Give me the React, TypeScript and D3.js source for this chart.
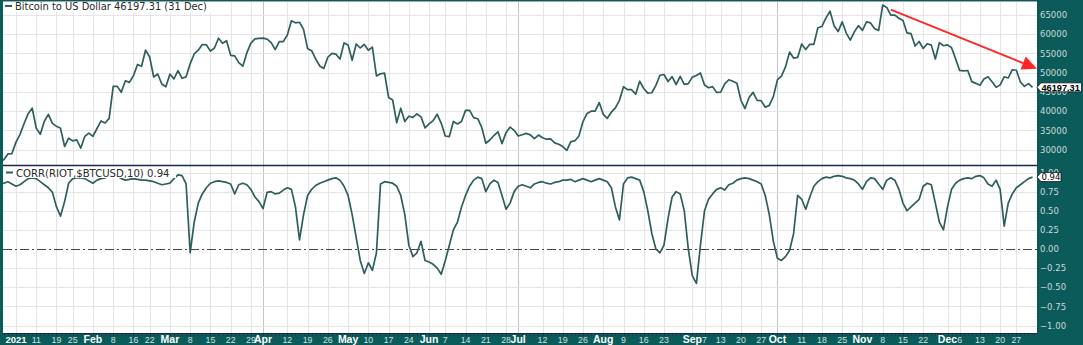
import React from "react";
import * as d3 from "d3";

// ---------- DATA ----------
const firstDay = "2020-12-28";
const lastDay = "2021-12-31";
const holidays = ["2021-01-01", "2021-01-18", "2021-02-15", "2021-04-02", "2021-05-31", "2021-07-05", "2021-09-06", "2021-11-25", "2021-12-24"];

// Bitcoin close on each trading day (Dec 28 2020 .. Dec 31 2021)
const btcClose = [
  // Dec 2020
  27000, 27400, 28900, 29000,
  // Jan
  31970, 33990, 36820, 39370, 40800, 35570, 34000, 37390, 39190, 36830, 36070, 35550, 30830, 32990, 32290, 32570, 30430, 33470, 34320,
  // Feb
  33470, 35510, 37470, 36930, 38140, 46480, 46450, 44920, 47910, 47500, 49200, 52150, 51680, 55890, 54090, 48890, 49680, 47070, 46340,
  // Mar
  49630, 48380, 50540, 48560, 48930, 52300, 54880, 55850, 57330, 57250, 55610, 56430, 58960, 57660, 58320, 54530, 54390, 52610, 51700, 55140, 57690, 58790, 58920,
  // Apr
  58990, 58730, 57840, 56000, 58090, 58090, 59790, 63500, 62970, 63110, 61250, 56250, 55720, 53560, 51760, 51090, 54020, 55030, 54820, 53560, 57750,
  // May
  57210, 53240, 57470, 56430, 57360, 55850, 56670, 49150, 49720, 49880, 43540, 42910, 37000, 40780, 37300, 38700, 38400, 39290, 38530, 35680,
  // Jun
  36690, 37570, 39190, 36850, 33560, 33420, 37350, 36700, 37330, 40220, 40220, 38350, 38050, 35790, 31680, 32510, 33680, 34660, 31590, 34430, 35870, 35040,
  // Jul
  33570, 33900, 34230, 33860, 32880, 33810, 33120, 32730, 32820, 31780, 31420, 30820, 29810, 32110, 32310, 33580, 37300, 39430, 40010, 40020, 42240,
  // Aug
  39200, 38150, 39750, 40870, 42820, 46370, 45600, 45590, 44430, 47790, 45900, 44700, 44800, 46720, 49340, 49550, 47710, 48990, 46940, 49060, 46980, 47170,
  // Sep
  48850, 49290, 49950, 46810, 46090, 46390, 44880, 44960, 47090, 48180, 47780, 47260, 42840, 40690, 43570, 44900, 42840, 42720, 41030, 41520, 43790,
  // Oct
  48120, 49110, 51510, 55360, 53810, 53970, 57470, 56040, 57400, 57370, 61670, 62030, 64260, 65990, 62210, 60690, 63230, 60310, 58470, 60620, 62230,
  // Nov
  61000, 63230, 62940, 61450, 61000, 67570, 66970, 64990, 64950, 64160, 63560, 60340, 60140, 56940, 58120, 56300, 57540, 57170, 53570, 57810, 57010,
  // Dec
  57230, 56510, 53600, 50590, 50500, 50580, 47680, 47240, 46740, 48380, 48940, 47670, 46200, 46850, 48940, 48630, 50780, 50640, 47590, 46440, 47180, 46197.31,
];

// CORR(RIOT,$BTCUSD,10) on each trading day
const corrValues = [
  0.85, 0.86, 0.88, 0.85, 0.82, 0.84, 0.88, 0.92, 0.93, 0.92,
  0.88, 0.84, 0.80, 0.74, 0.55, 0.43, 0.62, 0.86, 0.92, 0.93,
  0.93, 0.92, 0.89, 0.86, 0.90, 0.92, 0.93, 0.95, 0.96, 0.95,
  0.92, 0.90, 0.91, 0.92, 0.91, 0.90, 0.90, 0.89, 0.88, 0.86,
  0.84, 0.85, 0.86, 0.92, 0.97, 0.96, 0.85, -0.05, 0.35, 0.60,
  0.72, 0.80, 0.86, 0.88, 0.89, 0.88, 0.87, 0.85, 0.72, 0.84,
  0.86, 0.84, 0.78, 0.68, 0.62, 0.53, 0.74, 0.75, 0.72, 0.73,
  0.77, 0.80, 0.78, 0.55, 0.12, 0.45, 0.70, 0.78, 0.83, 0.86,
  0.88, 0.90, 0.92, 0.93, 0.90, 0.82, 0.70, 0.45, 0.15, -0.15,
  -0.32, -0.18, -0.28, -0.05, 0.85, 0.88, 0.87, 0.86, 0.82, 0.70,
  0.45, 0.05, -0.10, -0.05, 0.10, -0.15, -0.17, -0.20, -0.25, -0.33,
  -0.15, 0.05, 0.25, 0.35, 0.55, 0.70, 0.82, 0.90, 0.94, 0.92,
  0.75, 0.85, 0.90, 0.87, 0.70, 0.52, 0.60, 0.75, 0.82, 0.84,
  0.82, 0.80, 0.85, 0.87, 0.88, 0.86, 0.85, 0.87, 0.88, 0.90,
  0.90, 0.91, 0.88, 0.90, 0.92, 0.90, 0.88, 0.90, 0.92, 0.90,
  0.88, 0.80, 0.55, 0.38, 0.85, 0.93, 0.94, 0.92, 0.90, 0.75,
  0.50, 0.20, 0.00, -0.05, 0.05, 0.40, 0.68, 0.75, 0.72, 0.50,
  0.00, -0.35, -0.45, 0.05, 0.50, 0.65, 0.72, 0.78, 0.80, 0.77,
  0.84, 0.86, 0.90, 0.92, 0.93, 0.92, 0.90, 0.88, 0.85, 0.70,
  0.45, 0.10, -0.12, -0.15, -0.10, -0.02, 0.20, 0.70, 0.65, 0.52,
  0.68, 0.82, 0.88, 0.92, 0.94, 0.93, 0.95, 0.96, 0.95, 0.93,
  0.92, 0.90, 0.85, 0.78, 0.88, 0.93, 0.92, 0.85, 0.78, 0.90,
  0.93, 0.90, 0.78, 0.60, 0.50, 0.55, 0.60, 0.65, 0.82, 0.86,
  0.84, 0.60, 0.35, 0.25, 0.55, 0.78, 0.86, 0.90, 0.92, 0.93,
  0.92, 0.95, 0.96, 0.93, 0.85, 0.82, 0.90, 0.78, 0.30, 0.60,
  0.72, 0.80, 0.84, 0.88, 0.92, 0.94,
];

const btcTicks = [65000, 60000, 55000, 50000, 45000, 40000, 35000, 30000];
const corrTicks = [1, 0.75, 0.5, 0.25, 0, -0.25, -0.5, -0.75, -1];

const tickDates = [
  "2021-01-04", "2021-01-11", "2021-01-19", "2021-01-25", "2021-02-01", "2021-02-08", "2021-02-16", "2021-02-22",
  "2021-03-01", "2021-03-08", "2021-03-15", "2021-03-22", "2021-03-29", "2021-04-01", "2021-04-12", "2021-04-19",
  "2021-04-26", "2021-05-03", "2021-05-10", "2021-05-17", "2021-05-24", "2021-06-01", "2021-06-07", "2021-06-14",
  "2021-06-21", "2021-06-28", "2021-07-01", "2021-07-12", "2021-07-19", "2021-07-26", "2021-08-02", "2021-08-09",
  "2021-08-16", "2021-08-23", "2021-09-01", "2021-09-07", "2021-09-13", "2021-09-20", "2021-09-27", "2021-10-01",
  "2021-10-11", "2021-10-18", "2021-10-25", "2021-11-01", "2021-11-08", "2021-11-15", "2021-11-22", "2021-12-01",
  "2021-12-06", "2021-12-13", "2021-12-20", "2021-12-27",
];
const tickLabels = [
  "2021", "11", "19", "25", "Feb", "8", "16", "22",
  "Mar", "8", "15", "22", "29", "Apr", "12", "19",
  "26", "May", "10", "17", "24", "Jun", "7", "14",
  "21", "28", "Jul", "12", "19", "26", "Aug", "9",
  "16", "23", "Sep", "7", "13", "20", "27", "Oct",
  "11", "18", "25", "Nov", "8", "15", "22", "Dec",
  "6", "13", "20", "27",
];
const strongGridLabels = ["Apr", "Jul", "Oct"];

const priceTitle = "Bitcoin to US Dollar 46197.31 (31 Dec)";
const corrTitle = "CORR(RIOT,$BTCUSD,10) 0.94";
const lastPriceText = "46197.31";
const lastCorrText = "0.94";

// ---------- helpers ----------
function tradingDays(): string[] {
  const out: string[] = [];
  const end = new Date(lastDay + "T00:00:00Z").getTime();
  for (let t = new Date(firstDay + "T00:00:00Z").getTime(); t <= end; t += 86400000) {
    const d = new Date(t);
    const dow = d.getUTCDay();
    const s = d.toISOString().slice(0, 10);
    if (dow !== 0 && dow !== 6 && !holidays.includes(s)) out.push(s);
  }
  return out;
}

const W = 1083;
const H = 345;
const plotL = 3;
const plotR = 1037;
const topY0 = 1;
const divY = 165;
const botY1 = 333;
const teal = "#0a5b5a";
const lineColor = "#2f5e5e";
const gridColor = "#e5e5e5";

export default function App() {
  const days = tradingDays();
  const idx = (s: string) => days.indexOf(s);
  const jan4 = idx("2021-01-04");
  const step = 4.05;
  const x = d3
    .scaleLinear()
    .domain([jan4 - (16 - plotL) / step, jan4 + (plotR - 16) / step])
    .range([plotL, plotR]);
  const yTop = d3.scaleLinear().domain([30000, 65000]).range([149.7, 15]);
  const yBot = d3.scaleLinear().domain([-1, 1]).range([325.5, 172.5]);

  const n = Math.min(days.length, btcClose.length, corrValues.length);
  const pts = d3.range(n);
  const btcLine = d3
    .line<number>()
    .x((i) => x(i))
    .y((i) => yTop(btcClose[i]));
  const corrLine = d3
    .line<number>()
    .x((i) => x(i))
    .y((i) => yBot(corrValues[i]));

  const lastI = n - 1;
  const lastPY = yTop(btcClose[lastI]);
  const lastCY = yBot(corrValues[lastI]);

  // arrow annotation (drawn in price space)
  const aX1 = x(idx("2021-11-10"));
  const aY1 = yTop(66400);
  const aX2 = plotR;
  const aY2 = yTop(50000) - 4;
  const dx = aX2 - aX1;
  const dy = aY2 - aY1;
  const len = Math.hypot(dx, dy);
  const ux = dx / len;
  const uy = dy / len;
  const hl = 15;
  const hw = 7;
  const bx = aX2 - hl * ux;
  const by = aY2 - hl * uy;

  return (
    <svg
      width={W}
      height={H}
      style={{ position: "fixed", left: 0, top: 0, display: "block" }}
      xmlns="http://www.w3.org/2000/svg"
    >
      <defs>
        <clipPath id="clipTop">
          <rect x={plotL} y={topY0} width={plotR - plotL} height={divY - topY0} />
        </clipPath>
        <clipPath id="clipBot">
          <rect x={plotL} y={divY} width={plotR - plotL} height={botY1 - divY} />
        </clipPath>
        <clipPath id="clipBotAxis">
          <rect x={plotR} y={divY + 2} width={W - plotR} height={H - divY} />
        </clipPath>
      </defs>
      <rect x={0} y={0} width={W} height={H} fill={teal} />
      <rect x={plotL} y={topY0} width={plotR - plotL} height={botY1 - topY0} fill="#ffffff" />

      {/* vertical grid */}
      {tickDates.map((d, k) => {
        const xx = Math.round(x(idx(d))) + 0.5;
        const strong = strongGridLabels.includes(tickLabels[k]);
        return (
          <line
            key={"vg" + k}
            x1={xx}
            x2={xx}
            y1={topY0}
            y2={botY1}
            stroke={strong ? "#c4c4c4" : gridColor}
            strokeWidth={1}
          />
        );
      })}
      {/* horizontal grids */}
      {btcTicks.map((v) => (
        <line
          key={"hgt" + v}
          x1={plotL}
          x2={plotR}
          y1={Math.round(yTop(v)) + 0.5}
          y2={Math.round(yTop(v)) + 0.5}
          stroke={gridColor}
        />
      ))}
      {corrTicks
        .filter((v) => v !== 0)
        .map((v) => (
          <line
            key={"hgb" + v}
            x1={plotL}
            x2={plotR}
            y1={Math.round(yBot(v)) + 0.5}
            y2={Math.round(yBot(v)) + 0.5}
            stroke={gridColor}
          />
        ))}
      <line
        x1={plotL}
        x2={plotR}
        y1={Math.round(yBot(0)) + 0.5}
        y2={Math.round(yBot(0)) + 0.5}
        stroke="#444"
        strokeWidth={1}
        strokeDasharray="9,3,2,3"
      />

      {/* series */}
      <path d={btcLine(pts) || ""} fill="none" stroke={lineColor} strokeWidth={1.7} strokeLinejoin="round" clipPath="url(#clipTop)" />
      <path d={corrLine(pts) || ""} fill="none" stroke={lineColor} strokeWidth={1.7} strokeLinejoin="round" clipPath="url(#clipBot)" />

      {/* arrow */}
      <line x1={aX1} y1={aY1} x2={bx} y2={by} stroke="#ff2626" strokeWidth={2} />
      <polygon
        points={`${aX2},${aY2} ${bx - hw * uy},${by + hw * ux} ${bx + hw * uy},${by - hw * ux}`}
        fill="#ff2626"
      />

      {/* legends */}
      <rect x={plotL} y={topY0} width={210} height={11} fill="#fff" />
      <line x1={5} x2={12} y1={6} y2={6} stroke={lineColor} strokeWidth={2} />
      <text x={15} y={9.8} fontFamily="DejaVu Sans" fontSize={9.9} fill="#2a2a2a">
        {priceTitle}
      </text>
      <rect x={plotL} y={divY + 1} width={173} height={12} fill="#fff" />
      <line x1={6} x2={13} y1={172.5} y2={172.5} stroke={lineColor} strokeWidth={2} />
      <text x={16} y={176.5} fontFamily="DejaVu Sans" fontSize={10.1} fill="#2a2a2a">
        {corrTitle}
      </text>

      {/* borders */}
      <line x1={plotL} x2={plotR} y1={divY + 0.5} y2={divY + 0.5} stroke="#1b2a4a" strokeWidth={1.3} />
      <line x1={plotL} x2={plotR} y1={botY1 + 0.5} y2={botY1 + 0.5} stroke="#1b2a4a" strokeWidth={1.2} />
      <line x1={plotL} x2={plotR} y1={topY0 + 0.5} y2={topY0 + 0.5} stroke="#9aa" strokeWidth={1} />

      {/* right axis minor ticks */}
      <line x1={plotR + 1} x2={plotR + 1} y1={topY0} y2={botY1} stroke="#123f4a" strokeWidth={1} strokeDasharray="1,2" />
      {/* bottom axis minor ticks */}
      {pts.map((i) => (
        <line key={"mt" + i} x1={Math.round(x(i)) + 0.5} x2={Math.round(x(i)) + 0.5} y1={botY1 + 1} y2={botY1 + 3} stroke="#17404c" />
      ))}

      {/* right axis labels */}
      {btcTicks.map((v) => (
        <text key={"lt" + v} x={plotR + 3} y={yTop(v) + 3.2} fontFamily="DejaVu Sans" fontSize={8.5} fill="#cfdada">
          {d3.format("d")(v)}
        </text>
      ))}
      <g clipPath="url(#clipBotAxis)">
        {corrTicks.map((v) => (
          <text key={"lb" + v} x={plotR + 3} y={yBot(v) + 3.2} fontFamily="DejaVu Sans" fontSize={8.5} fill="#cfdada">
            {d3.format(".2f")(v)}
          </text>
        ))}
      </g>

      {/* last value tags */}
      <polygon
        points={`${plotR},${lastPY} ${plotR + 4},${lastPY - 4.5} ${W - 1.5},${lastPY - 4.5} ${W - 1.5},${lastPY + 4.5} ${plotR + 4},${lastPY + 4.5}`}
        fill="#fff"
        stroke="#111"
        strokeWidth={0.8}
      />
      <text x={plotR + 4.5} y={lastPY + 3.3} fontFamily="Liberation Sans" fontWeight="bold" fontSize={9.2} fill="#000">
        {lastPriceText}
      </text>
      <polygon
        points={`${plotR},${lastCY} ${plotR + 4},${lastCY - 4.5} ${plotR + 24},${lastCY - 4.5} ${plotR + 24},${lastCY + 4.5} ${plotR + 4},${lastCY + 4.5}`}
        fill="#fff"
        stroke="#111"
        strokeWidth={0.8}
      />
      <text x={plotR + 4.5} y={lastCY + 3.3} fontFamily="DejaVu Sans" fontSize={8.5} fill="#000">
        {lastCorrText}
      </text>

      {/* bottom axis labels */}
      {tickDates.map((d, k) => {
        const lab = tickLabels[k];
        const isMonth = isNaN(Number(lab));
        const isYear = lab.length === 4 && !isMonth;
        return (
          <text
            key={"xl" + k}
            x={x(idx(d))}
            y={342.5}
            textAnchor="middle"
            fontFamily="Liberation Sans"
            fontWeight={isMonth || isYear ? "bold" : "normal"}
            fontSize={isMonth ? 10.5 : isYear ? 9.5 : 8.8}
            fill={isMonth || isYear ? "#ffffff" : "#d6e0e0"}
          >
            {lab}
          </text>
        );
      })}
    </svg>
  );
}
